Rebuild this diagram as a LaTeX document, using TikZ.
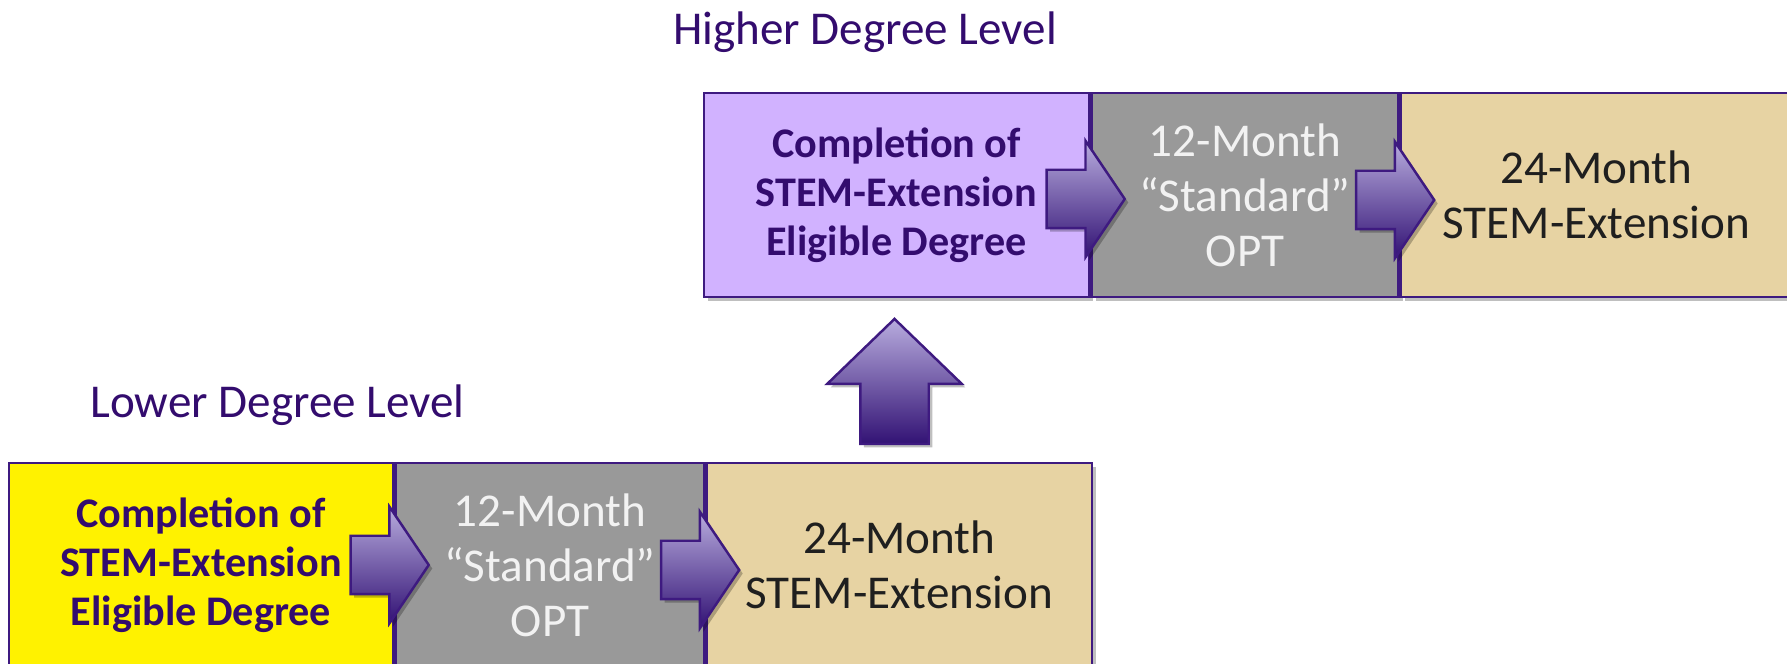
\documentclass[tikz,border=0pt]{standalone}
\usepackage{fontspec}
\setmainfont{Carlito}
\usepackage{xcolor}
\usepackage{tikz}
\usetikzlibrary{shapes,shadows,positioning,calc}

\definecolor{degpurple}{RGB}{51,12,110}
\definecolor{edgepurple}{RGB}{62,26,128}
\definecolor{lavender}{RGB}{209,178,255}
\definecolor{optgray}{RGB}{153,153,153}
\definecolor{stemtan}{RGB}{231,211,163}
\definecolor{arrowlight}{RGB}{184,172,222}
\definecolor{arrowdark}{RGB}{50,18,116}

\begin{document}
\begin{tikzpicture}[
    box/.style={draw=edgepurple, line width=0.7pt, minimum height=2.04cm, inner sep=2pt, align=center,
      drop shadow={shadow xshift=1.2pt, shadow yshift=-1.2pt, opacity=0.25, fill=black}},
    degree/.style={box, text=degpurple, font=\fontsize{12}{13.9}\selectfont\bfseries},
    opt/.style={box, fill=optgray, text=white!95!black, font=\fontsize{13.4}{15.6}\selectfont},
    stem/.style={box, fill=stemtan, text=black!88, font=\fontsize{13.4}{15.6}\selectfont},
    level/.style={text=degpurple, anchor=base, font=\fontsize{13.4}{15.6}\selectfont},
    blockarrow/.style={single arrow, draw=edgepurple, line width=0.7pt, inner sep=0.28cm,
      minimum width=1.14cm, minimum height=0.75cm, single arrow head extend=0.29cm,
      single arrow tip angle=112, top color=arrowlight, bottom color=arrowdark, anchor=tip,
      drop shadow={shadow xshift=1pt, shadow yshift=-1pt, opacity=0.25, fill=black}}
  ]
    \fill[white] (0,0) rectangle (17.87,6.64);
    \useasboundingbox (0,0) rectangle (17.87,6.64);

    % Higher degree level
    \node[level] (hlevel) at (8.65,6.19) {Higher Degree Level};
    \node[degree, fill=lavender, minimum width=3.85cm] (hdeg) at (8.965,4.69)
        {Completion of\\STEM-Extension\\Eligible Degree};
    \node[opt, minimum width=3.07cm, right=0cm of hdeg] (hopt) {12-Month\\“Standard”\\OPT};
    \node[stem, minimum width=3.91cm, right=0cm of hopt] (hstem) {24-Month\\STEM-Extension};

    % Lower degree level
    \node[level] (llevel) at (2.775,2.46) {Lower Degree Level};
    \node[degree, fill=yellow, minimum width=3.84cm] (ldeg) at (2.01,0.99)
        {Completion of\\STEM-Extension\\Eligible Degree};
    \node[opt, minimum width=3.09cm, right=0cm of ldeg] (lopt) {12-Month\\“Standard”\\OPT};
    \node[stem, minimum width=3.85cm, right=0cm of lopt] (lstem) {24-Month\\STEM-Extension};

    % Arrows
    \node[blockarrow] (harr1) at ([xshift=0.36cm, yshift=-0.04cm]hdeg.east) {};
    \node[blockarrow] (harr2) at ([xshift=0.36cm, yshift=-0.05cm]hopt.east) {};
    \node[blockarrow] (larr1) at ([xshift=0.36cm]ldeg.east) {};
    \node[blockarrow] (larr2) at ([xshift=0.35cm, yshift=-0.05cm]lopt.east) {};
    \node[blockarrow, shape border rotate=90, inner sep=0.33cm, minimum width=1.32cm,
        minimum height=1.25cm, single arrow head extend=0.33cm, single arrow tip angle=92]
        (uparr) at ([xshift=-0.02cm, yshift=-0.19cm]hdeg.south) {};
\end{tikzpicture}
\end{document}
